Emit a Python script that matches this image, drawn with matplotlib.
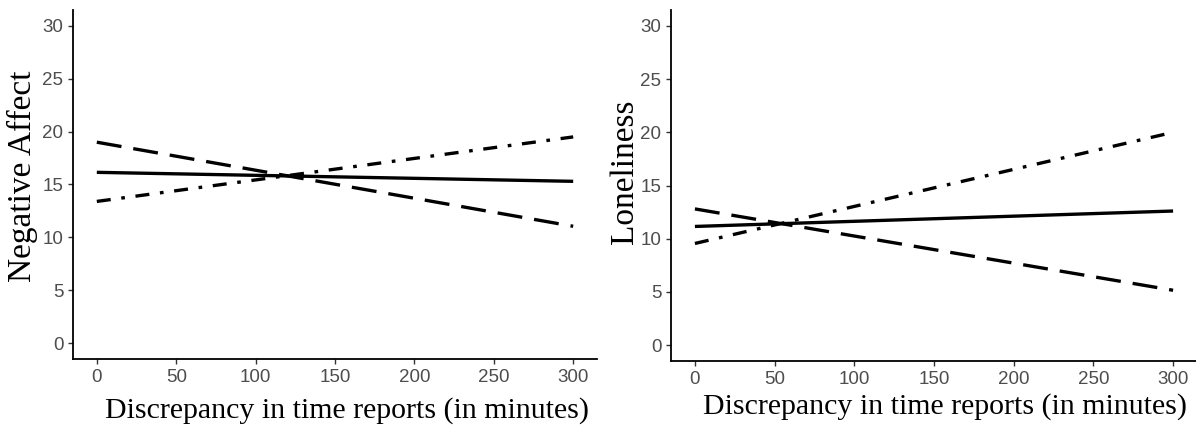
import matplotlib
matplotlib.use("Agg")
import matplotlib.pyplot as plt
import numpy as np

# Data
x_range = [0, 300]
x_ticks = [0, 50, 100, 150, 200, 250, 300]
y_ticks = [0, 5, 10, 15, 20, 25, 30]

neg_solid = [16.15, 15.3]
neg_dashed = [19.0, 11.05]
neg_dashdot = [13.4, 19.5]

lon_solid = [11.15, 12.6]
lon_dashed = [12.8, 5.15]
lon_dashdot = [9.55, 20.0]

xlabel = "Discrepancy in time reports (in minutes)"
ylabels = ["Negative Affect", "Loneliness"]

W, H = 1196, 426
fig = plt.figure(figsize=(W / 100, H / 100), dpi=100)

def px_axes(l, t, r, b):
    return fig.add_axes([l / W, 1 - b / H, (r - l) / W, (b - t) / H])

ax1 = px_axes(73, 10, 597, 359)
ax2 = px_axes(671, 10, 1197, 361)

lw = 2.4
dashed = (0, (7.5, 3.6))
dashdot = (0, (4.2, 3.2, 1.1, 3.2))

serif = ["Liberation Serif", "DejaVu Serif"]
sans = ["Liberation Sans", "DejaVu Sans"]

panels = [
    (ax1, neg_solid, neg_dashed, neg_dashdot, ylabels[0], (0.522, -0.169), (-0.097, 0.524)),
    (ax2, lon_solid, lon_dashed, lon_dashdot, ylabels[1], (0.520, -0.150), (-0.087, 0.538)),
]

for ax, s, d, dd, yl, xlpos, ylpos in panels:
    ax.plot(x_range, s, color="black", lw=lw, solid_capstyle="butt")
    ax.plot(x_range, d, color="black", lw=lw, linestyle=dashed, dash_capstyle="butt")
    ax.plot(x_range, dd, color="black", lw=lw, linestyle=dashdot, dash_capstyle="butt")
    ax.set_xlim(-15, 315)
    ax.set_ylim(-1.5, 31.5)
    ax.set_xticks(x_ticks)
    ax.set_yticks(y_ticks)
    for sp in ["top", "right"]:
        ax.spines[sp].set_visible(False)
    for sp in ["left", "bottom"]:
        ax.spines[sp].set_linewidth(1.3)
        ax.spines[sp].set_color("black")
    ax.tick_params(axis="both", length=3.5, width=1.0, color="#333333",
                   labelcolor="#4D4D4D", labelsize=13.5, pad=3.5)
    for lab in ax.get_xticklabels() + ax.get_yticklabels():
        lab.set_family(sans)
    ax.text(xlpos[0], xlpos[1], xlabel, transform=ax.transAxes, ha="center",
            va="baseline", fontsize=21.5, family=serif, color="black")
    ax.text(ylpos[0], ylpos[1], yl, transform=ax.transAxes, ha="center",
            va="center", rotation=90, fontsize=24, family=serif, color="black")

fig.savefig("out.png", dpi=100)
